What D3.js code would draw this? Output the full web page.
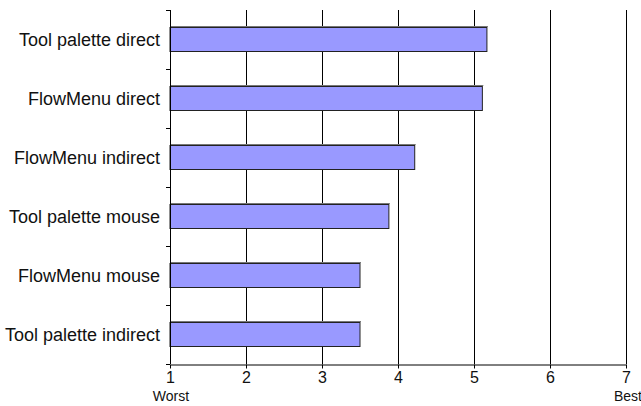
<!DOCTYPE html>
<html>
<head>
<meta charset="utf-8">
<script src="https://cdn.jsdelivr.net/npm/d3@7"></script>
<style>
  body { margin: 0; background: #fff; }
  text { font-family: "Liberation Sans", Arial, sans-serif; }
</style>
</head>
<body>
<div id="chart"></div>
<script>
const width = 641;
const height = 406;

const categories = [
  "Tool palette direct",
  "FlowMenu direct",
  "FlowMenu indirect",
  "Tool palette mouse",
  "FlowMenu mouse",
  "Tool palette indirect"
];
const values = [5.17, 5.11, 4.22, 3.88, 3.5, 3.5];
const ticks = [1, 2, 3, 4, 5, 6, 7];

const margin = { top: 10, right: 15, bottom: 42, left: 170 };

const svg = d3.select("#chart").append("svg")
  .attr("width", width)
  .attr("height", height);

const x = d3.scaleLinear()
  .domain([1, 7])
  .range([margin.left, width - margin.right]);

const y = d3.scaleBand()
  .domain(categories)
  .range([margin.top, height - margin.bottom])
  .paddingInner(0.59)
  .paddingOuter(0.295);

const plotBottom = height - margin.bottom;

// vertical grid lines
svg.append("g")
  .selectAll("line")
  .data(ticks.slice(1))
  .join("line")
  .attr("x1", d => Math.round(x(d)) + 0.5)
  .attr("x2", d => Math.round(x(d)) + 0.5)
  .attr("y1", margin.top)
  .attr("y2", plotBottom)
  .attr("stroke", "#000")
  .attr("stroke-width", 1);

// bars
const data = categories.map((c, i) => ({ cat: c, value: values[i] }));

svg.append("g")
  .selectAll("rect")
  .data(data)
  .join("rect")
  .attr("x", x(1))
  .attr("y", d => Math.round(y(d.cat)) + 0.5)
  .attr("width", d => x(d.value) - x(1))
  .attr("height", Math.round(y.bandwidth()))
  .attr("fill", "#9999ff")
  .attr("stroke", "#222")
  .attr("stroke-width", 1);

// bar top shadow
svg.append("g")
  .selectAll("line")
  .data(data)
  .join("line")
  .attr("x1", x(1))
  .attr("x2", d => x(d.value) + 1)
  .attr("y1", d => Math.round(y(d.cat)) - 0.5)
  .attr("y2", d => Math.round(y(d.cat)) - 0.5)
  .attr("stroke", "#777")
  .attr("stroke-width", 1);

// left axis with ticks at band boundaries
const step = y.step();
const boundaries = d3.range(categories.length + 1).map(i => margin.top + i * step);

svg.append("line")
  .attr("x1", x(1) + 0.5).attr("x2", x(1) + 0.5)
  .attr("y1", margin.top).attr("y2", plotBottom)
  .attr("stroke", "#000");

svg.append("g")
  .selectAll("line")
  .data(boundaries)
  .join("line")
  .attr("x1", x(1) - 4)
  .attr("x2", x(1))
  .attr("y1", d => Math.round(d) + 0.5)
  .attr("y2", d => Math.round(d) + 0.5)
  .attr("stroke", "#000");

svg.append("g")
  .selectAll("text")
  .data(categories)
  .join("text")
  .attr("x", x(1) - 10)
  .attr("y", d => y(d) + y.bandwidth() / 2)
  .attr("dy", "0.35em")
  .attr("text-anchor", "end")
  .attr("font-size", "18px")
  .attr("fill", "#111")
  .text(d => d);

// bottom axis
const xAxis = svg.append("g")
  .attr("transform", `translate(0,${Math.round(plotBottom) + 0.5})`)
  .call(d3.axisBottom(x).tickValues(ticks).tickSize(4).tickSizeOuter(0).tickFormat(d3.format("d")));

xAxis.select(".domain").attr("stroke", "#000");
xAxis.selectAll(".tick line").attr("stroke", "#000");
xAxis.selectAll(".tick text")
  .attr("font-size", "16px")
  .attr("font-family", "Liberation Sans, Arial, sans-serif")
  .attr("fill", "#111")
  .attr("dy", "0.7em");

svg.append("text")
  .attr("x", x(1) + 1)
  .attr("y", plotBottom + 37)
  .attr("text-anchor", "middle")
  .attr("font-size", "14px")
  .attr("fill", "#111")
  .text("Worst");

svg.append("text")
  .attr("x", x(7) + 2)
  .attr("y", plotBottom + 37)
  .attr("text-anchor", "middle")
  .attr("font-size", "14px")
  .attr("fill", "#111")
  .text("Best");
</script>
</body>
</html>
